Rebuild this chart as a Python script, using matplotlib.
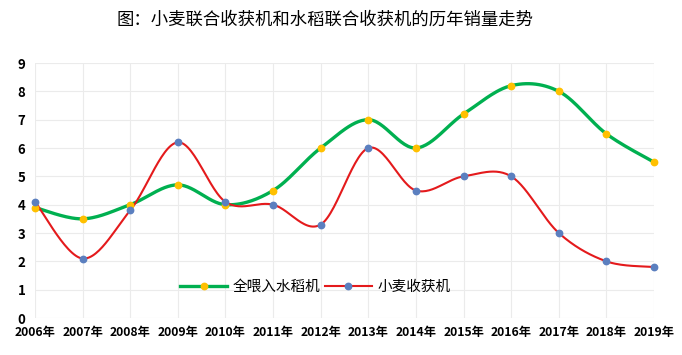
import numpy as np
import matplotlib
matplotlib.use('Agg')
import matplotlib.pyplot as plt

plt.rcParams['font.family'] = ['Noto Sans CJK SC', 'DejaVu Sans']

# 数据
years = ['2006年', '2007年', '2008年', '2009年', '2010年', '2011年', '2012年',
         '2013年', '2014年', '2015年', '2016年', '2017年', '2018年', '2019年']
rice = [3.9, 3.5, 4.0, 4.7, 4.0, 4.5, 6.0, 7.0, 6.0, 7.2, 8.2, 8.0, 6.5, 5.5]
wheat = [4.1, 2.1, 3.8, 6.2, 4.1, 4.0, 3.3, 6.0, 4.5, 5.0, 5.0, 3.0, 2.0, 1.8]


# 平滑曲线 (Catmull-Rom, 类似 Excel 的平滑线)
def smooth(x, y, n=30):
    x = np.asarray(x, float)
    y = np.asarray(y, float)
    px = np.concatenate([[x[0]], x, [x[-1]]])
    py = np.concatenate([[y[0]], y, [y[-1]]])
    xs, ys = [], []
    t = np.linspace(0, 1, n)
    for i in range(1, len(px) - 2):
        p0x, p1x, p2x, p3x = px[i - 1], px[i], px[i + 1], px[i + 2]
        p0y, p1y, p2y, p3y = py[i - 1], py[i], py[i + 1], py[i + 2]
        # 控制点
        c1x = p1x + (p2x - p0x) / 6
        c1y = p1y + (p2y - p0y) / 6
        c2x = p2x - (p3x - p1x) / 6
        c2y = p2y - (p3y - p1y) / 6
        bx = ((1 - t) ** 3 * p1x + 3 * (1 - t) ** 2 * t * c1x
              + 3 * (1 - t) * t ** 2 * c2x + t ** 3 * p2x)
        by = ((1 - t) ** 3 * p1y + 3 * (1 - t) ** 2 * t * c1y
              + 3 * (1 - t) * t ** 2 * c2y + t ** 3 * p2y)
        xs.extend(bx)
        ys.extend(by)
    return np.array(xs), np.array(ys)


fig = plt.figure(figsize=(6.82, 3.55), dpi=100)
ax = fig.add_axes([0.0513, 0.1042, 0.9077, 0.7183])

x = np.arange(len(years))

sx, sy = smooth(x, rice)
ax.plot(sx, sy, color='#00b050', lw=2.4, zorder=3)
ax.plot(x, rice, 'o', color='#ffc000', ms=4.6, zorder=4)

sx, sy = smooth(x, wheat)
ax.plot(sx, sy, color='#e41a1c', lw=1.5, zorder=3)
ax.plot(x, wheat, 'o', color='#5b7fbf', ms=4.6, zorder=4)

# 图例用的样式
ax.plot([], [], color='#00b050', lw=2.4, marker='o', mfc='#ffc000',
        mec='#ffc000', ms=4.6, label='全喂入水稻机')
ax.plot([], [], color='#e41a1c', lw=1.5, marker='o', mfc='#5b7fbf',
        mec='#5b7fbf', ms=4.6, label='小麦收获机')

ax.set_xlim(0, len(years) - 1)
ax.set_ylim(0, 9)
ax.set_xticks(x)
ax.set_xticklabels(years, fontsize=8.8, fontweight='bold')
ax.set_yticks(range(10))
ax.set_yticklabels([str(i) for i in range(10)], fontsize=9.5, fontweight='bold')
ax.tick_params(length=0, pad=7)
ax.tick_params(axis='x', pad=6)
ax.grid(True, color='#ebebeb', lw=0.8)
ax.set_axisbelow(True)
for s in ax.spines.values():
    s.set_visible(False)
for line in ax.lines:
    line.set_clip_on(False)

ax.legend(loc='center', bbox_to_anchor=(0.453, 0.122), ncol=2, frameon=False,
          fontsize=10.5, handlelength=3.2, handletextpad=0.4, columnspacing=0.3)

fig.text(0.477, 0.945, '图：小麦联合收获机和水稻联合收获机的历年销量走势',
         ha='center', va='center', fontsize=12.5)

fig.savefig('out.png', dpi=100)
